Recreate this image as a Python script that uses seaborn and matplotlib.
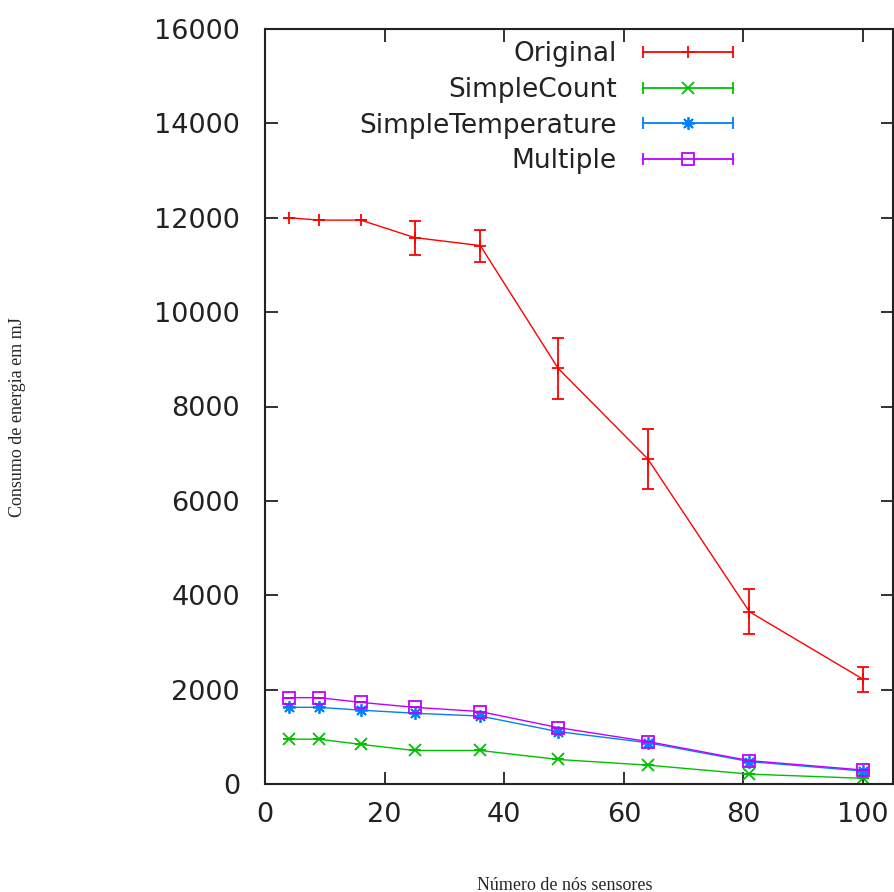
import pandas as pd
import matplotlib
matplotlib.use('Agg')
import matplotlib.pyplot as plt
import seaborn as sns
from matplotlib.lines import Line2D
from matplotlib.legend_handler import HandlerBase

# Dados
nos = [4, 9, 16, 25, 36, 49, 64, 81, 100]
original = [12000, 11950, 11950, 11580, 11410, 8810, 6890, 3650, 2220]
original_err = [0, 0, 0, 360, 340, 650, 640, 480, 270]
simple_count = [950, 950, 840, 710, 710, 520, 400, 210, 120]
simple_temp = [1625, 1625, 1565, 1500, 1440, 1110, 875, 475, 275]
multiple = [1830, 1830, 1730, 1625, 1535, 1195, 900, 495, 297]
small_err = [0, 0, 0, 0, 0, 0, 0, 0, 0]

series = ['Original', 'SimpleCount', 'SimpleTemperature', 'Multiple']
valores = [original, simple_count, simple_temp, multiple]
erros = [original_err, small_err, small_err, small_err]
cores = ['#ff0000', '#00c000', '#0080ff', '#c000ff']
marcadores = ['+', 'x', (8, 2, 0), 's']

sns.set_style('ticks')
plt.rcParams['font.family'] = ['DejaVu Sans']

fig = plt.figure(figsize=(8.94, 8.92), dpi=100)
ax = fig.add_axes([265 / 894, 1 - 784 / 892, 628 / 894, 755 / 892])

# Uma chamada por série (marcadores diferentes)
for s, v, e, c, m in zip(series, valores, erros, cores, marcadores):
    d = pd.DataFrame({'nos': nos, 'valor': v})
    sns.lineplot(data=d, x='nos', y='valor', color=c, marker=m, linewidth=1,
                 markersize=9, markerfacecolor='none', markeredgecolor=c,
                 markeredgewidth=1.3, ax=ax, legend=False)
    ax.errorbar(nos, v, yerr=e, fmt='none', ecolor=c, elinewidth=1.3, capsize=4, capthick=1.3)

# Legenda no estilo gnuplot (linha com barras nas pontas)
class HandlerBarra(HandlerBase):
    def create_artists(self, legend, orig_handle, xdescent, ydescent, width, height, fontsize, trans):
        y = height / 2 - ydescent
        x0, x1 = -xdescent, width - xdescent
        c = orig_handle.get_color()
        linha = Line2D([x0, x1], [y, y], color=c, lw=1.3)
        pontas = Line2D([x0, x1], [y, y], ls='none', marker='|', ms=9, mew=1.3, color=c)
        m = Line2D([(x0 + x1) / 2], [y], ls='none', marker=orig_handle.get_marker(), ms=9,
                   mew=1.3, color=c, markerfacecolor='none')
        arts = [linha, pontas, m]
        for a in arts:
            a.set_transform(trans)
        return arts

handles = [Line2D([], [], color=c, marker=m) for c, m in zip(cores, marcadores)]
leg = fig.legend(handles, series, loc='upper right', bbox_to_anchor=(733 / 894, 1 - 41 / 892),
                 frameon=False, markerfirst=False, fontsize=19, handlelength=3.4,
                 handletextpad=1.0, labelspacing=0.37, borderpad=0, borderaxespad=0,
                 handler_map={Line2D: HandlerBarra()})
for t in leg.get_texts():
    t.set_color('#222222')

ax.set_xlim(0, 105)
ax.set_ylim(0, 16000)
ax.set_xticks([0, 20, 40, 60, 80, 100])
ax.set_yticks(range(0, 16001, 2000))
ax.tick_params(direction='in', length=9, width=1.3, top=True, right=True,
               labelsize=19.5, labelcolor='#222222', color='#222222')
ax.tick_params(axis='y', pad=18)
ax.tick_params(axis='x', pad=13)
for sp in ax.spines.values():
    sp.set_visible(True)
    sp.set_linewidth(1.5)
    sp.set_color('#222222')
ax.set_xlabel('')
ax.set_ylabel('')

fig.text(565 / 894, 1 - 885 / 892, 'Número de nós sensores', ha='center', va='center',
         family='Liberation Serif', fontsize=13)
fig.text(18 / 894, 1 - 417 / 892, 'Consumo de energia em mJ', ha='center', va='center',
         rotation=90, family='Liberation Serif', fontsize=13)

fig.savefig('out.png', dpi=100)
